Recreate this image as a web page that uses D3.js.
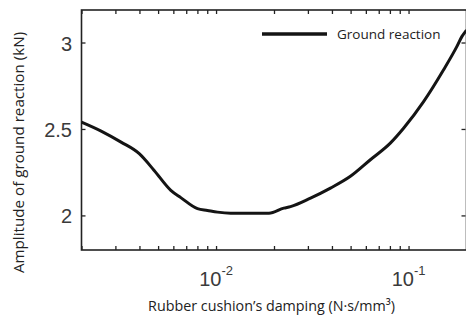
<!DOCTYPE html>
<html>
<head>
<meta charset="utf-8">
<script src="https://cdn.jsdelivr.net/npm/d3@7"></script>
<style>
  body { margin: 0; background: #fff; }
  svg { display: block; }
</style>
</head>
<body>
<svg id="chart" width="466" height="322"></svg>
<script>
// damping (N·s/mm^3)
var damping = [0.002, 0.00253, 0.00321, 0.00399, 0.00477, 0.00582, 0.00656, 0.00801,
  0.00902, 0.01017, 0.01191, 0.01884, 0.02249, 0.02437, 0.03095, 0.0393, 0.04989,
  0.06334, 0.0804, 0.0942, 0.1197, 0.1518, 0.1781, 0.1892, 0.2];
// amplitude of ground reaction (kN)
var reaction = [2.54, 2.488, 2.424, 2.357, 2.26, 2.145, 2.103, 2.039,
  2.029, 2.019, 2.013, 2.013, 2.042, 2.051, 2.1, 2.158, 2.226,
  2.322, 2.418, 2.504, 2.658, 2.841, 2.976, 3.034, 3.072];
var yTicks = [2, 2.5, 3];
var yTickLabels = ["2", "2.5", "3"];
var xMajor = [0.01, 0.1];
var xMajorExp = ["-2", "-1"];
var seriesName = "Ground reaction";

var svg = d3.select("#chart");
var pL = 81.5, pR = 466.5, pT = 10, pB = 250;

var x = d3.scaleLog().domain([0.002, 0.2]).range([pL, pR]);
var y = d3.scaleLinear().domain([1.8, 3.188]).range([pB, pT]);

// minor ticks 2..9 for each decade
var xMinor = [];
[0.001, 0.01, 0.1].forEach(function(d) {
  for (var k = 2; k <= 9; k++) {
    var v = d * k;
    if (v >= 0.002 && v <= 0.2) xMinor.push(v);
  }
});
var xAll = xMinor.concat(xMajor);

var axisColor = "#222";

function styleTicks(g) {
  g.select(".domain").remove();
  g.selectAll("line").attr("stroke", axisColor).attr("stroke-width", 1.3);
}

// bottom & top ticks (inward)
svg.append("g")
  .attr("transform", "translate(0," + pB + ")")
  .call(d3.axisBottom(x).tickValues(xAll).tickSize(-4).tickFormat(""))
  .call(styleTicks);
svg.append("g")
  .attr("transform", "translate(0," + pT + ")")
  .call(d3.axisTop(x).tickValues(xAll).tickSize(-4).tickFormat(""))
  .call(styleTicks);

// left & right ticks
svg.append("g")
  .attr("transform", "translate(" + pL + ",0)")
  .call(d3.axisLeft(y).tickValues(yTicks).tickSize(-4).tickFormat(""))
  .call(styleTicks);
svg.append("g")
  .attr("transform", "translate(" + (pR - 1) + ",0)")
  .call(d3.axisRight(y).tickValues(yTicks).tickSize(-4).tickFormat(""))
  .call(styleTicks);

// box
svg.append("rect")
  .attr("x", pL).attr("y", pT)
  .attr("width", pR - pL).attr("height", pB - pT)
  .attr("fill", "none").attr("stroke", axisColor).attr("stroke-width", 1.6);

// y tick labels
svg.selectAll(".ylab").data(yTicks).enter().append("text")
  .attr("class", "ylab")
  .attr("x", 72)
  .attr("y", function(d) { return y(d) + 8; })
  .attr("text-anchor", "end")
  .attr("font-family", "Liberation Sans, Arial, sans-serif")
  .attr("font-size", 20)
  .attr("fill", "#3a3a3a")
  .text(function(d, i) { return yTickLabels[i]; });

// x tick labels 10^n
var xl = svg.selectAll(".xlab").data(xMajor).enter().append("text")
  .attr("class", "xlab")
  .attr("x", function(d) { return x(d); })
  .attr("y", 286)
  .attr("text-anchor", "middle")
  .attr("font-family", "Liberation Sans, Arial, sans-serif")
  .attr("font-size", 20)
  .attr("fill", "#3a3a3a");
xl.append("tspan").text("10");
xl.append("tspan")
  .attr("font-size", 13)
  .attr("dy", -11)
  .text(function(d, i) { return xMajorExp[i]; });

// curve
var line = d3.line()
  .x(function(d, i) { return x(damping[i]); })
  .y(function(d) { return y(d); })
  .curve(d3.curveMonotoneX);

svg.append("path")
  .datum(reaction)
  .attr("d", line)
  .attr("fill", "none")
  .attr("stroke", "#141414")
  .attr("stroke-width", 3)
  .attr("stroke-linejoin", "round");

// legend
svg.append("line")
  .attr("x1", 262).attr("x2", 327)
  .attr("y1", 34).attr("y2", 34)
  .attr("stroke", "#141414").attr("stroke-width", 3.5);
svg.append("text")
  .attr("x", 337).attr("y", 38.5)
  .attr("font-family", "Open Sans, sans-serif")
  .attr("font-size", 13.5)
  .attr("fill", "#222")
  .text(seriesName);

// axis titles
svg.append("text")
  .attr("x", 271.5).attr("y", 311)
  .attr("text-anchor", "middle")
  .attr("font-family", "Open Sans, sans-serif")
  .attr("font-size", 14.3)
  .attr("fill", "#222")
  .text("Rubber cushion\u2019s damping (N\u00b7s/mm\u00b3)");

svg.append("text")
  .attr("transform", "translate(24,152.5) rotate(-90)")
  .attr("text-anchor", "middle")
  .attr("font-family", "Open Sans, sans-serif")
  .attr("font-size", 15.2)
  .attr("fill", "#222")
  .text("Amplitude of ground reaction (kN)");
</script>
</body>
</html>
